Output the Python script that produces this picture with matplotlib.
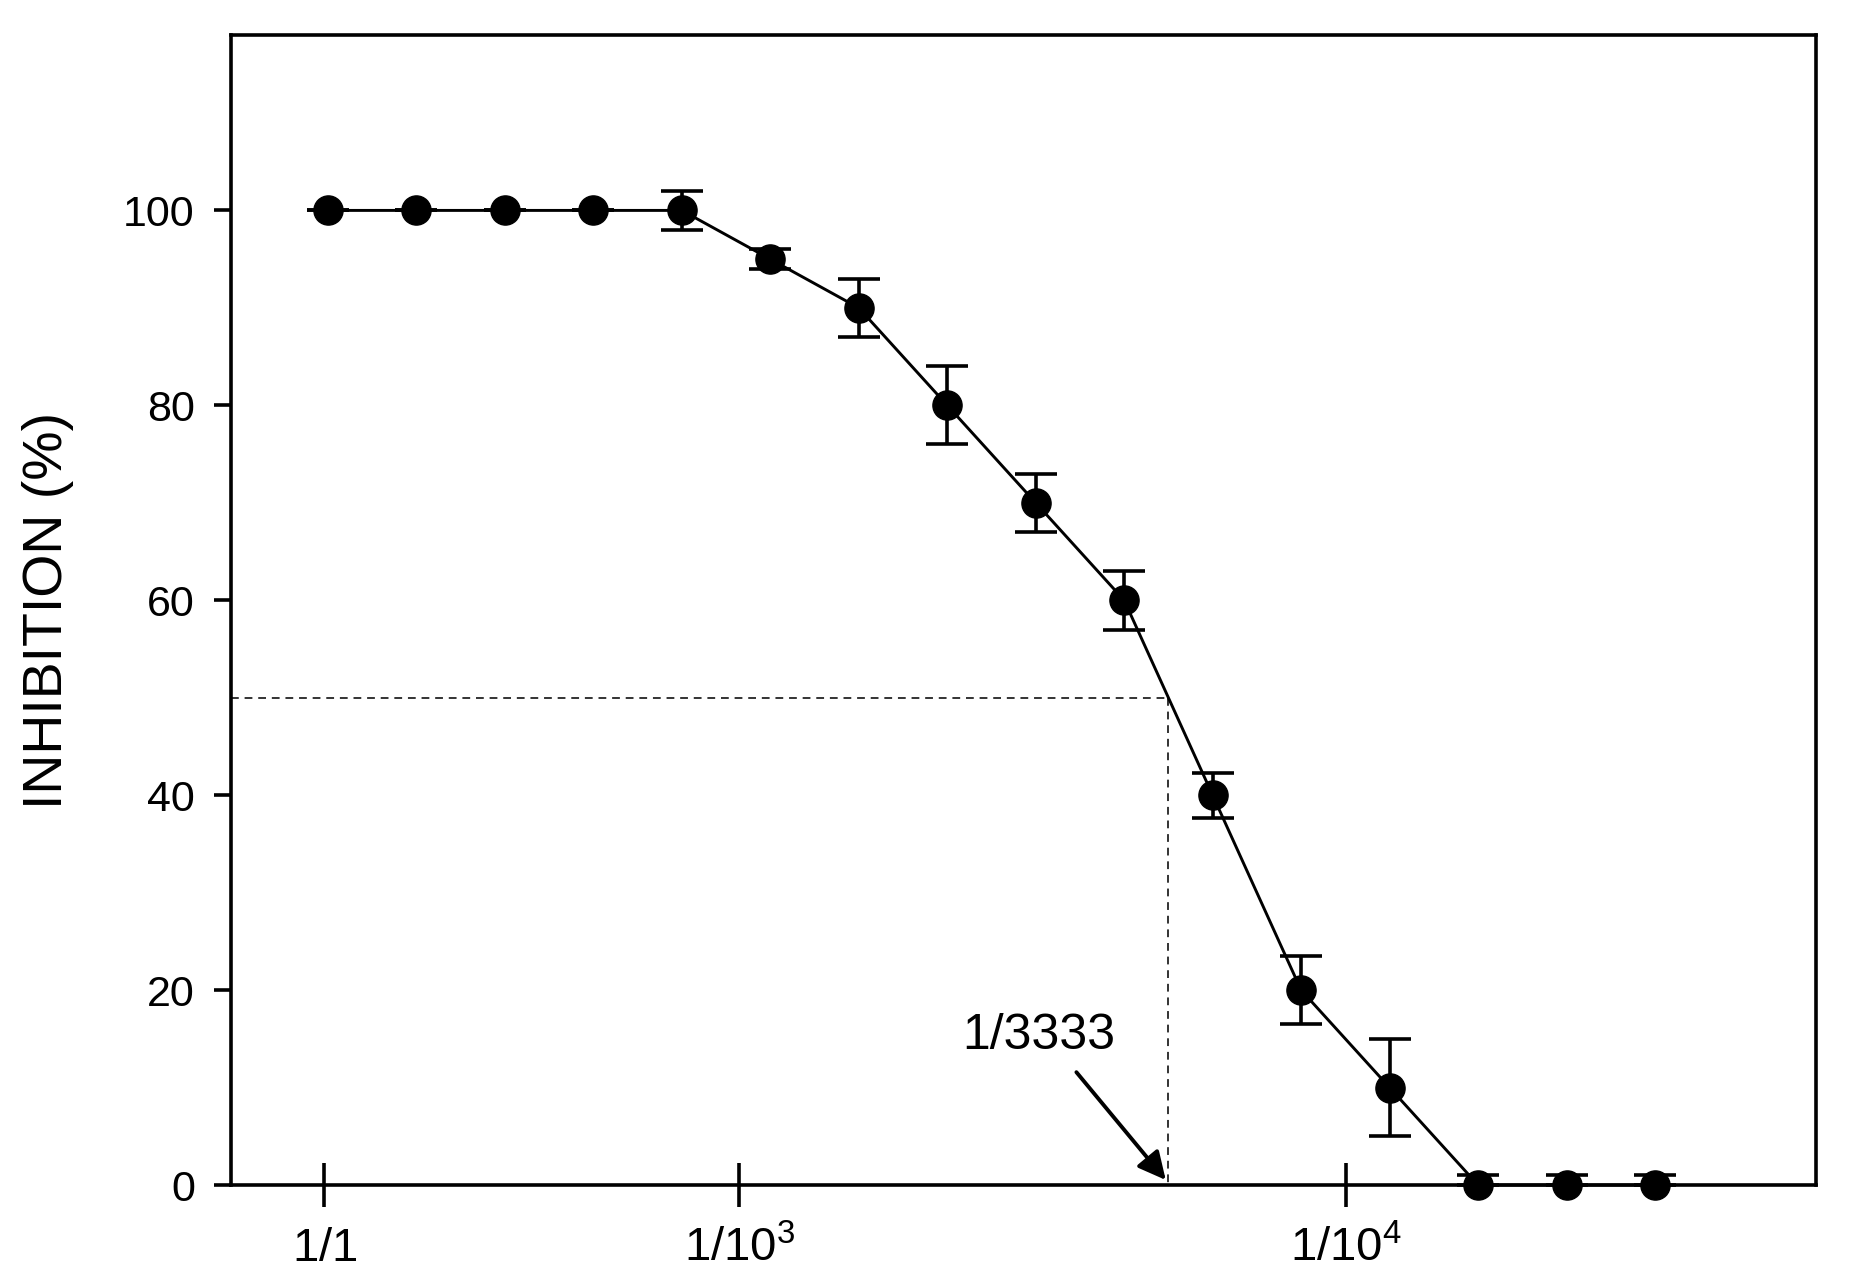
import matplotlib.pyplot as plt
from matplotlib import font_manager
import numpy as np

plt.rcParams['font.family'] = ['Liberation Sans', 'DejaVu Sans']

narrow = 'Liberation Sans'
try:
    font_manager.findfont('Liberation Sans Narrow', fallback_to_default=False)
    narrow = 'Liberation Sans Narrow'
except ValueError:
    pass
plt.rcParams['mathtext.fontset'] = 'custom'
plt.rcParams['mathtext.rm'] = narrow
plt.rcParams['mathtext.it'] = narrow

# inhibition (%) per dilution step, with error bars
inhibition = [100, 100, 100, 100, 100, 95, 90, 80, 70, 60, 40, 20, 10, 0, 0, 0]
err_low = [0, 0, 0, 0, 2, 1, 3, 4, 3, 3, 2.3, 3.5, 5, 0, 0, 0]
err_high = [0, 0, 0, 0, 2, 1, 3, 4, 3, 3, 2.3, 3.5, 5, 1, 1, 1]
tick_labels = [r'$\mathrm{1/1}$', r'$\mathrm{1/10^3}$', r'$\mathrm{1/10^4}$']
tick_pos = [-0.04, 4.65, 11.51]
ic50_label = '1/3333'
ic50_pos = 9.49
ic50_value = 50

steps = np.arange(len(inhibition))

fig = plt.figure(figsize=(18.55, 12.86), dpi=100)
ax = fig.add_axes([0.1245, 0.0785, 0.8545, 0.8943])

xmin, xmax = -1.096, 16.82
ax.set_xlim(xmin, xmax)
ax.set_ylim(0, 118)

# dashed guide lines at 50 %
ax.plot([xmin, ic50_pos], [ic50_value, ic50_value], color='#333333', lw=1.4,
        dashes=(4, 3), zorder=1)
ax.plot([ic50_pos, ic50_pos], [ic50_value, 0], color='#333333', lw=1.4,
        dashes=(4, 3), zorder=1)

ax.errorbar(steps, inhibition, yerr=[err_low, err_high], color='black', lw=2.1,
            marker='o', markersize=21, capsize=15, capthick=2.6,
            elinewidth=2.6, clip_on=False, zorder=3)

ax.annotate('', xy=(ic50_pos, 0.3), xytext=(8.44, 11.8),
            arrowprops=dict(arrowstyle='-|>', color='black', lw=2.8,
                            mutation_scale=42))
ax.text(8.03, 15.3, ic50_label, fontsize=36, ha='center', va='center',
        family=[narrow, 'Liberation Sans'])

for s in ax.spines.values():
    s.set_linewidth(2.6)

ax.set_yticks([0, 20, 40, 60, 80, 100])
ax.tick_params(axis='y', direction='out', length=12, width=2.6, pad=14,
               labelsize=31)
ax.set_xticks(tick_pos)
ax.set_xticklabels(tick_labels, fontsize=34)
ax.tick_params(axis='x', direction='inout', length=32, width=2.6, pad=14)

ax.set_ylabel('INHIBITION (%)', fontsize=40)
ax.yaxis.set_label_coords(-0.099, 0.5)

fig.savefig('out.png', dpi=100)
